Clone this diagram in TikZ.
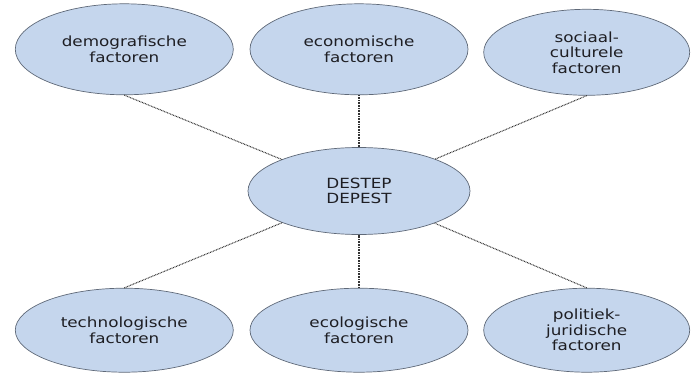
\documentclass[tikz,border=0pt]{standalone}
\usepackage{fontspec}
\setmainfont[FakeStretch=1.2]{DejaVu Sans}
\usetikzlibrary{shapes.geometric, positioning}

\definecolor{factorfill}{RGB}{197,214,237}
\definecolor{factorline}{RGB}{95,105,120}
\definecolor{factortext}{RGB}{30,30,35}

\tikzset{
  factor/.style={ellipse, draw=factorline, fill=factorfill, line width=0.7pt,
    minimum width=218pt, minimum height=91pt, inner sep=0pt, align=center,
    text=factortext, font=\fontsize{14}{15.5}\selectfont},
  lowfactor/.style={factor, minimum height=84pt},
  link/.style={draw=black!80, line width=1.1pt, dash pattern=on 0.8pt off 0.8pt}
}

\begin{document}
\begin{tikzpicture}[x=1pt, y=-1pt, node distance=52pt and 16pt]
          \useasboundingbox (0,0) rectangle (692,372);

          \node (destep) [factor, minimum width=222pt, minimum height=87pt] at (359,191) {DESTEP\\DEPEST};

          \node (eco) [factor, above = of destep] {economische\\factoren};
          \node (demo) [factor, left = 16pt of eco] {demografische\\factoren};
          \node (soc) [factor, minimum width=206pt, minimum height=86pt, right = 15pt of eco, yshift=-3pt] {sociaal-\\culturele\\factoren};

          \node (ecol) [lowfactor, below = 53pt of destep] {ecologische\\factoren};
          \node (tech) [lowfactor, left = 16pt of ecol] {technologische\\factoren};
          \node (pol) [lowfactor, minimum width=206pt, right = 15pt of ecol] {politiek-\\juridische\\factoren};

          \path [link]
              (demo.south) edge (destep)
              (eco.south) edge (destep)
              (soc.south) edge (destep)
              (tech.north) edge (destep)
              (ecol.north) edge (destep)
              (pol.north) edge (destep)
              ;
\end{tikzpicture}
\end{document}
